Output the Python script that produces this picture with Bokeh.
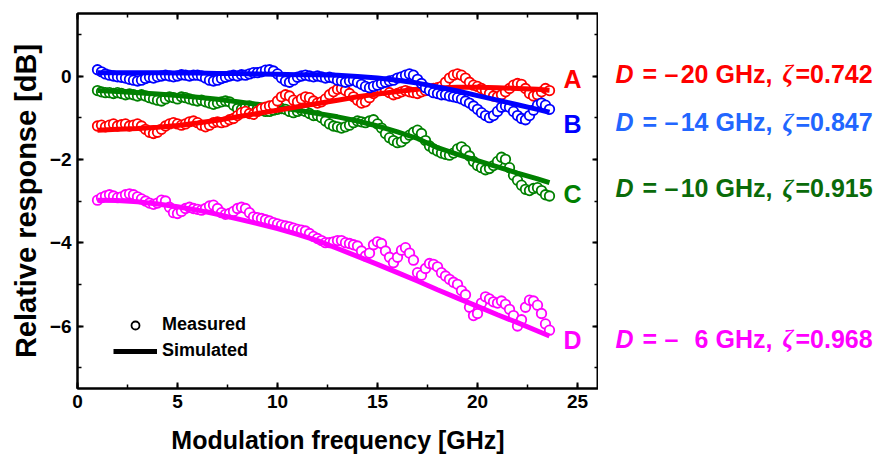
import numpy as np
from bokeh.plotting import figure
from bokeh.layouts import row
from bokeh.models import (Range1d, LinearAxis, SingleIntervalTicker, Label,
                          Legend, LegendItem)
from bokeh.core.properties import value
from bokeh.embed import file_html
from bokeh.resources import INLINE

# ---------------- data ----------------
freq = np.round(np.arange(1.0, 23.61, 0.2), 1)  # measurement grid, GHz

meas_A = [-1.20, -1.18, -1.22, -1.18, -1.15,
          -1.20, -1.17, -1.15, -1.20, -1.18,
          -1.15, -1.20, -1.28, -1.35, -1.38,
          -1.35, -1.28, -1.20, -1.15, -1.12,
          -1.15, -1.18, -1.15, -1.10, -1.08,
          -1.12, -1.18, -1.22, -1.18, -1.12,
          -1.10, -1.12, -1.10, -1.05, -1.02,
          -0.95, -0.88, -0.85, -0.90, -0.92,
          -0.85, -0.78, -0.75, -0.72, -0.70,
          -0.60, -0.50, -0.45, -0.48, -0.58,
          -0.62, -0.55, -0.50, -0.52, -0.60,
          -0.65, -0.62, -0.55, -0.45, -0.38,
          -0.32, -0.30, -0.35, -0.42, -0.50,
          -0.58, -0.65, -0.62, -0.52, -0.42,
          -0.35, -0.32, -0.35, -0.40, -0.45,
          -0.42, -0.38, -0.35, -0.38, -0.40,
          -0.42, -0.38, -0.35, -0.32, -0.30,
          -0.28, -0.25, -0.15, -0.05, 0.02,
          0.05, 0.02, -0.05, -0.15, -0.22,
          -0.25, -0.30, -0.35, -0.42, -0.48,
          -0.50, -0.45, -0.38, -0.30, -0.22,
          -0.18, -0.20, -0.30, -0.42, -0.48,
          -0.45, -0.38, -0.30, -0.35]

meas_B = [0.15, 0.10, 0.05, 0.02, 0.00,
          -0.02, -0.03, -0.05, -0.08, -0.10,
          -0.12, -0.10, -0.06, -0.03, -0.05,
          -0.02, 0.00, 0.02, 0.00, -0.02,
          0.00, 0.03, 0.02, 0.00, 0.02,
          0.02, 0.00, -0.05, -0.10, -0.12,
          -0.10, -0.06, -0.03, 0.00, 0.02,
          0.00, 0.03, 0.02, 0.05, 0.08,
          0.08, 0.10, 0.14, 0.15, 0.12,
          0.05, -0.05, -0.12, -0.15, -0.10,
          -0.03, 0.00, 0.02, 0.00, -0.02,
          0.00, -0.02, -0.05, -0.03, -0.05,
          -0.10, -0.12, -0.15, -0.12, -0.10,
          -0.15, -0.20, -0.25, -0.28, -0.25,
          -0.22, -0.18, -0.15, -0.12, -0.10,
          -0.05, -0.02, 0.02, 0.05, 0.02,
          -0.08, -0.18, -0.28, -0.35, -0.40,
          -0.42, -0.45, -0.45, -0.48, -0.50,
          -0.52, -0.55, -0.60, -0.65, -0.72,
          -0.80, -0.88, -0.95, -1.00, -0.95,
          -0.85, -0.75, -0.72, -0.75, -0.85,
          -0.95, -1.02, -1.05, -0.95, -0.82,
          -0.70, -0.65, -0.70, -0.80]

meas_C = [-0.35, -0.38, -0.40, -0.40, -0.42,
          -0.40, -0.42, -0.45, -0.43, -0.45,
          -0.48, -0.45, -0.48, -0.52, -0.55,
          -0.58, -0.60, -0.55, -0.50, -0.52,
          -0.55, -0.50, -0.52, -0.55, -0.58,
          -0.60, -0.58, -0.62, -0.65, -0.68,
          -0.65, -0.62, -0.60, -0.62, -0.70,
          -0.78, -0.80, -0.75, -0.72, -0.75,
          -0.78, -0.82, -0.85, -0.85, -0.82,
          -0.80, -0.78, -0.80, -0.85, -0.88,
          -0.85, -0.82, -0.85, -0.90, -0.95,
          -0.95, -1.00, -1.08, -1.15, -1.20,
          -1.22, -1.25, -1.22, -1.18, -1.12,
          -1.08, -1.10, -1.12, -1.08, -1.05,
          -1.15, -1.25, -1.38, -1.48, -1.55,
          -1.60, -1.58, -1.50, -1.42, -1.35,
          -1.30, -1.38, -1.55, -1.68, -1.75,
          -1.80, -1.85, -1.88, -1.90, -1.85,
          -1.75, -1.70, -1.78, -1.92, -2.05,
          -2.15, -2.20, -2.25, -2.22, -2.15,
          -2.05, -1.95, -2.00, -2.20, -2.38,
          -2.50, -2.62, -2.72, -2.75, -2.70,
          -2.68, -2.75, -2.85, -2.88]

meas_D = [-2.98, -2.92, -2.88, -2.85, -2.88,
          -2.92, -2.90, -2.85, -2.83, -2.85,
          -2.90, -2.95, -3.00, -3.05, -3.08,
          -3.05, -2.98, -3.00, -3.15, -3.28,
          -3.30, -3.25, -3.18, -3.15, -3.18,
          -3.20, -3.22, -3.18, -3.12, -3.10,
          -3.18, -3.28, -3.32, -3.30, -3.25,
          -3.18, -3.15, -3.18, -3.28, -3.38,
          -3.40, -3.42, -3.45, -3.48, -3.52,
          -3.55, -3.58, -3.60, -3.62, -3.65,
          -3.68, -3.70, -3.72, -3.78, -3.85,
          -3.90, -3.95, -4.00, -4.00, -3.98,
          -3.95, -3.95, -4.00, -4.02, -4.05,
          -4.08, -4.20, -4.32, -4.25, -4.05,
          -3.98, -4.02, -4.20, -4.35, -4.48,
          -4.35, -4.18, -4.12, -4.25, -4.42,
          -4.72, -4.78, -4.62, -4.50, -4.52,
          -4.58, -4.72, -4.80, -4.88, -4.95,
          -5.00, -5.15, -5.25, -5.55, -5.75,
          -5.70, -5.45, -5.30, -5.35, -5.42,
          -5.45, -5.40, -5.48, -5.60, -5.75,
          -6.00, -5.85, -5.55, -5.38, -5.40,
          -5.50, -5.70, -5.95, -6.10]

sim_f = [1, 2, 3, 4, 5, 6, 7, 8, 9, 10, 11, 12, 13, 14, 15, 16, 17, 18, 19,
         20, 21, 22, 23, 23.6]
sim_A = [-1.30, -1.28, -1.26, -1.23, -1.19, -1.13, -1.06, -0.98, -0.90, -0.82,
         -0.74, -0.66, -0.58, -0.50, -0.43, -0.37, -0.32, -0.29, -0.27, -0.27,
         -0.28, -0.30, -0.32, -0.34]
sim_B = [0.08, 0.08, 0.08, 0.08, 0.07, 0.07, 0.06, 0.06, 0.05, 0.04, 0.03, 0.03,
         0.02, -0.01, -0.05, -0.10, -0.17, -0.26, -0.36, -0.47, -0.58, -0.69,
         -0.80, -0.87]
sim_C = [-0.35, -0.37, -0.40, -0.43, -0.47, -0.51, -0.56, -0.62, -0.68, -0.75,
         -0.82, -0.90, -0.98, -1.08, -1.20, -1.34, -1.50, -1.72, -1.88, -2.03,
         -2.18, -2.33, -2.47, -2.56]
sim_D = [-2.98, -2.99, -3.02, -3.07, -3.14, -3.22, -3.32, -3.43, -3.54, -3.66,
         -3.80, -3.95, -4.14, -4.33, -4.52, -4.72, -4.92, -5.13, -5.33, -5.53,
         -5.73, -5.92, -6.12, -6.24]

curve_letters = ["A", "B", "C", "D"]
letter_y = [-0.06, -1.16, -2.84, -6.34]
param_D = ["20", "14", "10", "6"]          # D = –(value) GHz
param_zeta = ["0.742", "0.847", "0.915", "0.968"]
param_y = [0.06, -1.11, -2.69, -6.31]

x_ticks_major = 5
y_ticks_major = 2

# ---------------- styling ----------------
FONT = "Liberation Sans"
curve_colors = ["#ff0000", "#0000ff", "#008000", "#ff00ff"]
label_colors = ["#ff0000", "#2266ff", "#0a6b0a", "#ff00ff"]

yr = Range1d(-7.5, 1.5)
p = figure(frame_width=521, frame_height=375, x_range=Range1d(0, 26.05),
           y_range=yr, output_backend="svg",
           toolbar_location=None, min_border_left=77, min_border_right=0,
           min_border_top=13, min_border_bottom=72)
p.xgrid.visible = False
p.ygrid.visible = False
p.outline_line_color = "black"
p.outline_line_width = 2
p.background_fill_color = "white"
p.border_fill_color = "white"


def style_axis(ax, show_labels):
    ax.axis_line_width = 2
    ax.major_tick_line_width = 2
    ax.minor_tick_line_width = 1.5
    ax.major_tick_in = 6
    ax.major_tick_out = 0
    ax.minor_tick_in = 4
    ax.minor_tick_out = 0
    if show_labels:
        ax.major_label_text_font = FONT
        ax.major_label_text_font_style = "bold"
        ax.major_label_text_font_size = "19px"
        ax.major_label_text_color = "black"
        ax.axis_label_text_font = FONT
        ax.axis_label_text_font_style = "bold"
        ax.axis_label_text_color = "black"
    else:
        ax.major_label_text_font_size = "0px"
        ax.major_label_text_color = None
        ax.major_label_standoff = 0


p.xaxis.ticker = SingleIntervalTicker(interval=x_ticks_major, num_minor_ticks=2)
p.yaxis.ticker = SingleIntervalTicker(interval=y_ticks_major, num_minor_ticks=2)
for ax in p.xaxis + p.yaxis:
    style_axis(ax, True)
p.xaxis.axis_label = "Modulation frequency [GHz]"
p.yaxis.axis_label = "Relative response [dB]"
p.xaxis.axis_label_text_font_size = "25px"
p.yaxis.axis_label_text_font_size = "29px"
p.xaxis.major_label_standoff = 6
p.yaxis.major_label_standoff = 6
p.xaxis.axis_label_standoff = 15
p.yaxis.axis_label_standoff = 5

top = LinearAxis(ticker=SingleIntervalTicker(interval=x_ticks_major, num_minor_ticks=2))
right = LinearAxis(ticker=SingleIntervalTicker(interval=y_ticks_major, num_minor_ticks=2))
style_axis(top, False)
style_axis(right, False)
p.add_layout(top, "above")
p.add_layout(right, "right")

meas = [meas_A, meas_B, meas_C, meas_D]
sims = [sim_A, sim_B, sim_C, sim_D]
order = [3, 2, 0, 1]
for i in order:
    p.scatter(freq, meas[i], marker="circle", size=9.5, fill_color="white",
              line_color=curve_colors[i], line_width=1.8)
    p.line(sim_f, sims[i], line_color=curve_colors[i], line_width=5)

# curve letters
for i in range(4):
    p.add_layout(Label(x=24.75, y=letter_y[i], text=curve_letters[i],
                       text_font=FONT, text_font_style="bold",
                       text_font_size="25px", text_color=curve_colors[i],
                       text_align="center", text_baseline="middle"))

# legend (proxy renderers with no visible data)
r_m = p.scatter([np.nan], [np.nan], marker="circle", size=9.5,
                fill_color="white", line_color="black", line_width=1.8)
r_s = p.line([np.nan, np.nan], [np.nan, np.nan], line_color="black",
             line_width=5)
legend = Legend(items=[LegendItem(label="Measured", renderers=[r_m]),
                       LegendItem(label="Simulated", renderers=[r_s])],
                location=(36, 27), glyph_width=44, glyph_height=20,
                spacing=5, padding=0, margin=0, label_standoff=5,
                border_line_color=None, background_fill_alpha=0,
                label_text_font=FONT, label_text_font_style="bold",
                label_text_font_size="18px", label_text_color="black",
                label_height=20)
p.add_layout(legend)

# ---------------- right-hand parameter panel ----------------
p2 = figure(frame_width=278, frame_height=375, x_range=Range1d(0, 278),
            y_range=yr, output_backend="svg", toolbar_location=None,
            min_border_left=0, min_border_right=0, min_border_top=13,
            min_border_bottom=72)
p2.axis.visible = False
p2.grid.visible = False
p2.outline_line_color = None
p2.background_fill_color = "white"
p2.border_fill_color = "white"

n = len(param_y)
LSIZE = "25px"
# (pixel offset in panel, texts, font, style, align)
pieces = [
    (17, ["D"] * n, FONT, "bold italic", "left"),
    (44, ["="] * n, FONT, "bold", "left"),
    (66, ["–"] * n, FONT, "bold", "left"),
    (110, param_D, FONT, "bold", "right"),
    (117, ["GHz,"] * n, FONT, "bold", "left"),
    (184, ["ζ"] * n, "Liberation Serif", "bold italic", "left"),
    (197, ["=" + z for z in param_zeta], FONT, "bold", "left"),
]
for px, txt, fnt, sty, al in pieces:
    p2.text(x=[px] * n, y=param_y, text=txt, text_color=label_colors,
            text_font=value(fnt), text_font_style=sty, text_font_size=LSIZE,
            text_baseline="middle", text_align=al)

layout = row(p, p2)
open("out.html", "w").write(file_html(layout, INLINE))
